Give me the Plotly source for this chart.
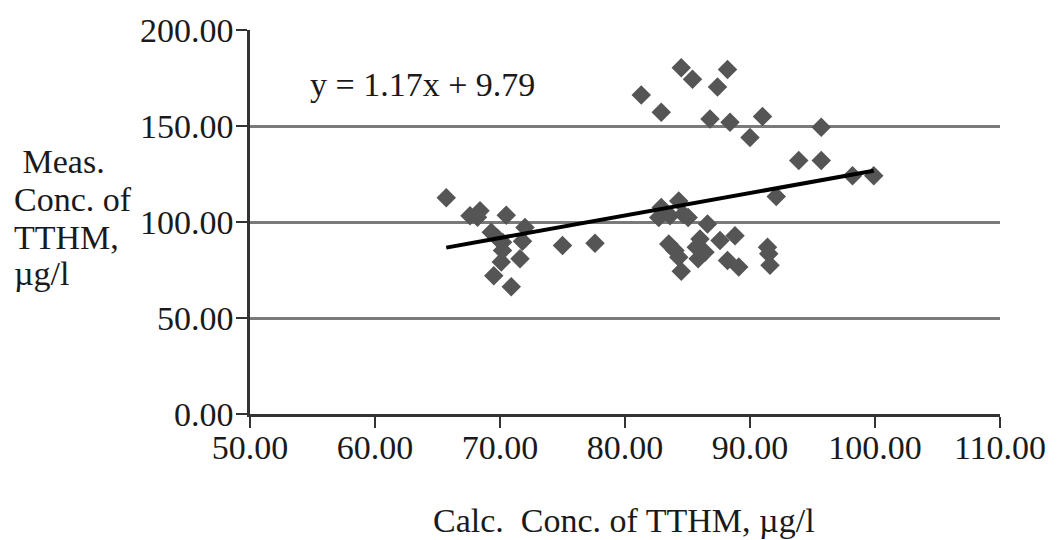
import plotly.graph_objects as go

# Calculated vs measured TTHM concentrations (µg/l)
calc_conc = [
    65.7, 67.6, 68.4, 68.2, 70.5, 69.3, 69.8, 72.0, 70.2, 71.8, 70.2, 70.1,
    71.6, 69.5, 70.9, 75.0, 77.6,
    84.5, 88.2, 85.4, 87.4, 81.3, 82.9, 86.8, 88.4, 91.0, 90.0, 93.9, 95.7,
    95.7, 98.2, 99.9, 92.1,
    82.9, 84.3, 82.7, 83.6, 84.65, 85.05, 86.6, 83.5, 84.0, 84.3, 86.0, 85.7,
    86.4, 85.85, 84.5, 87.6, 88.8, 88.2, 89.1, 91.4, 91.5, 91.6,
]
meas_conc = [
    112.6, 103.2, 105.8, 102.5, 103.5, 94.6, 91.5, 97.2, 89.5, 90.0, 85.2, 79.2,
    80.9, 72.0, 66.3, 87.8, 88.9,
    180.3, 179.4, 174.3, 170.3, 166.1, 157.2, 153.7, 152.0, 154.9, 144.0, 132.0,
    132.0, 149.4, 124.1, 124.1, 113.3,
    107.5, 110.9, 102.3, 103.3, 104.0, 102.3, 98.9, 88.6, 85.2, 81.7, 91.2, 86.9,
    84.3, 80.9, 74.4, 90.3, 92.9, 80.0, 76.6, 86.9, 83.4, 77.5,
]

# Linear fit y = slope * x + intercept
slope = 1.17
intercept = 9.79
fit_x = [min(calc_conc), max(calc_conc)]
fit_y = [slope * v + intercept for v in fit_x]

x_ticks = [50, 60, 70, 80, 90, 100, 110]
y_ticks = [0, 50, 100, 150, 200]

# y-axis title, one line per entry
y_title_lines = [" Meas.", "Conc. of", "TTHM,", "µg/l"]

FONT = "Liberation Serif, Times New Roman, serif"
FS = 34
TXT = "#1a1a1a"

# plot-area geometry in pixels (used to place annotations in paper coords)
L, R, T, B = 250, 52, 25, 126
PW, PH = 1058 - L - R, 540 - T - B


def px(xp):
    return (xp - L) / PW


def py(yp):
    return (540 - B - yp) / PH


fig = go.Figure()
fig.add_trace(go.Scatter(
    x=calc_conc, y=meas_conc, mode="markers",
    marker=dict(symbol="diamond", size=15, color="#555555"),
    showlegend=False,
))
fig.add_trace(go.Scatter(
    x=fit_x, y=fit_y, mode="lines",
    line=dict(color="black", width=4),
    showlegend=False,
))

annotations = [
    dict(text="y = 1.17x + 9.79", xref="paper", yref="paper",
         x=px(308), y=py(80), xanchor="left", yanchor="middle",
         showarrow=False, font=dict(family=FONT, size=FS, color=TXT)),
    dict(text="Calc.  Conc. of TTHM, µg/l", xref="paper", yref="paper",
         x=px(627), y=py(522), xanchor="center", yanchor="middle",
         showarrow=False, font=dict(family=FONT, size=FS, color=TXT)),
]
for line, yc in zip(y_title_lines, [158, 197, 235, 272]):
    annotations.append(dict(
        text=line, xref="paper", yref="paper",
        x=px(10), y=py(yc), xanchor="left", yanchor="middle",
        showarrow=False, font=dict(family=FONT, size=FS, color=TXT)))

fig.update_layout(
    width=1058, height=540,
    margin=dict(l=L, r=R, t=T, b=B),
    paper_bgcolor="white", plot_bgcolor="white",
    font=dict(family=FONT, size=FS, color=TXT),
    xaxis=dict(
        range=[50, 110], tickvals=x_ticks,
        ticktext=[f"{v:.2f}" for v in x_ticks],
        showgrid=False, zeroline=False,
        showline=True, linecolor="#333333", linewidth=2.5,
        ticks="outside", ticklen=11, tickwidth=2, tickcolor="#333333",
        ticklabelstandoff=-10,
    ),
    yaxis=dict(
        range=[0, 200], tickvals=y_ticks,
        ticktext=[f"{v:.2f}" for v in y_ticks],
        showgrid=True, gridcolor="#7a7a7a", gridwidth=2.5,
        zeroline=False,
        showline=True, linecolor="#333333", linewidth=2.5,
        ticks="outside", ticklen=11, tickwidth=2, tickcolor="#333333",
        ticklabelstandoff=-4,
    ),
    annotations=annotations,
)

fig.write_html("out.html")
